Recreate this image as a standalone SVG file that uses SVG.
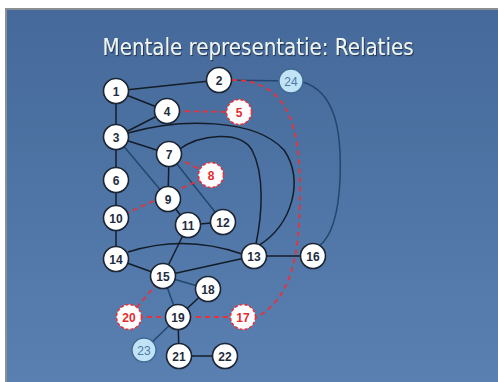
<svg xmlns="http://www.w3.org/2000/svg" width="498" height="382" viewBox="0 0 498 382">
<defs>
<linearGradient id="bg" x1="0" y1="0" x2="0" y2="1">
<stop offset="0" stop-color="#45699a"/>
<stop offset="0.5" stop-color="#4e75a5"/>
<stop offset="1" stop-color="#5a80b2"/>
</linearGradient>
<filter id="sh" x="-5%" y="-20%" width="110%" height="150%">
<feDropShadow dx="1" dy="1.2" stdDeviation="0.4" flood-color="#1a2c48" flood-opacity="0.85"/>
</filter>
<style>
.n circle{fill:#ffffff;stroke:#1b2533;stroke-width:1.6}
.n text{font-family:"Liberation Sans",Arial,sans-serif;font-weight:bold;font-size:12px;fill:#1e2c40;text-anchor:middle}
.r circle{fill:#ffffff;stroke:#e8323a;stroke-width:1.6;stroke-dasharray:3 2}
.r text{font-family:"Liberation Sans",Arial,sans-serif;font-weight:bold;font-size:12px;fill:#e42a30;text-anchor:middle}
.b circle{fill:#c2e2f6;stroke:#3d6a95;stroke-width:1.4}
.b text{font-family:"Liberation Sans",Arial,sans-serif;font-size:12px;fill:#4a7aa8;text-anchor:middle}
.k{stroke:#141c28;stroke-width:1.5;fill:none}
.u{stroke:#24466e;stroke-width:1.5;fill:none}
.d{stroke:#e8323a;stroke-width:1.8;stroke-dasharray:5 4;fill:none}
</style>
</defs>
<rect width="498" height="382" fill="#ffffff"/>
<rect x="5" y="8" width="493" height="374" fill="#8a8f96"/>
<rect x="7" y="10" width="491" height="372" fill="url(#bg)"/>
<text x="258" y="55" font-family="'DejaVu Sans',Verdana,sans-serif" font-size="23" fill="#eef6f2" text-anchor="middle" textLength="311" lengthAdjust="spacingAndGlyphs" filter="url(#sh)">Mentale representatie: Relaties</text>
<g id="connectors">
<line class="k" x1="116" y1="91" x2="219" y2="80"/>
<line class="k" x1="116" y1="91" x2="167" y2="111"/>
<line class="k" x1="116" y1="91" x2="116" y2="259"/>
<line class="k" x1="116" y1="137" x2="167" y2="111"/>
<line class="u" x1="219" y1="80" x2="291" y2="81"/>
<line class="d" x1="167" y1="111" x2="239" y2="112"/>
<path class="d" d="M232,80 C290,80 300,130 300,190 C300,260 290,300 255,318"/>
<path class="u" d="M303,82 C335,92 342,130 340,180 C338,220 330,238 319,246"/>
<path class="k" d="M128,133 C180,118 255,118 284,150 C305,180 292,225 258,246"/>
<path class="k" d="M178,150 C200,134 240,130 252,150 C265,175 262,215 256,244"/>
<line class="k" x1="116" y1="137" x2="169" y2="154"/>
<line class="u" x1="116" y1="137" x2="168" y2="199"/>
<line class="k" x1="169" y1="154" x2="168" y2="199"/>
<line class="u" x1="169" y1="154" x2="223" y2="222"/>
<line class="d" x1="169" y1="154" x2="211" y2="175"/>
<line class="d" x1="211" y1="175" x2="116" y2="218"/>
<line class="k" x1="168" y1="199" x2="188" y2="225"/>
<line class="k" x1="188" y1="225" x2="223" y2="222"/>
<path class="k" d="M128,252 Q185,234 242,254"/>
<line class="k" x1="116" y1="259" x2="163" y2="276"/>
<line class="k" x1="188" y1="225" x2="163" y2="276"/>
<line class="k" x1="163" y1="276" x2="254" y2="256"/>
<line class="k" x1="254" y1="256" x2="313" y2="256"/>
<line class="u" x1="163" y1="276" x2="208" y2="289"/>
<line class="u" x1="163" y1="276" x2="178" y2="317"/>
<line class="k" x1="208" y1="289" x2="178" y2="317"/>
<line class="d" x1="163" y1="276" x2="129" y2="317"/>
<line class="d" x1="129" y1="317" x2="178" y2="317"/>
<line class="d" x1="178" y1="317" x2="243" y2="317"/>
<line class="u" x1="178" y1="317" x2="144" y2="350"/>
<line class="k" x1="178" y1="317" x2="179" y2="356"/>
<line class="k" x1="179" y1="356" x2="225" y2="356" stroke-width="2.2"/>
</g>
<g id="n1" class="n"><circle cx="116" cy="91" r="12.5"/><text x="116" y="95.5">1</text></g>
<g id="n2" class="n"><circle cx="219" cy="80" r="12.5"/><text x="219" y="84.5">2</text></g>
<g id="n24" class="b"><circle cx="291" cy="81" r="12"/><text x="291" y="85.5">24</text></g>
<g id="n4" class="n"><circle cx="167" cy="111" r="12.5"/><text x="167" y="115.5">4</text></g>
<g id="n5" class="r"><circle cx="239" cy="112" r="12.5"/><text x="239" y="116.5">5</text></g>
<g id="n3" class="n"><circle cx="116" cy="137" r="12.5"/><text x="116" y="141.5">3</text></g>
<g id="n7" class="n"><circle cx="169" cy="154" r="12.5"/><text x="169" y="158.5">7</text></g>
<g id="n8" class="r"><circle cx="211" cy="175" r="12.5"/><text x="211" y="179.5">8</text></g>
<g id="n6" class="n"><circle cx="116" cy="180" r="12.5"/><text x="116" y="184.5">6</text></g>
<g id="n9" class="n"><circle cx="168" cy="199" r="12.5"/><text x="168" y="203.5">9</text></g>
<g id="n10" class="n"><circle cx="116" cy="218" r="12.5"/><text x="116" y="222.5">10</text></g>
<g id="n11" class="n"><circle cx="188" cy="225" r="12.5"/><text x="188" y="229.5">11</text></g>
<g id="n12" class="n"><circle cx="223" cy="222" r="12.5"/><text x="223" y="226.5">12</text></g>
<g id="n14" class="n"><circle cx="116" cy="259" r="12.5"/><text x="116" y="263.5">14</text></g>
<g id="n13" class="n"><circle cx="254" cy="256" r="12.5"/><text x="254" y="260.5">13</text></g>
<g id="n16" class="n"><circle cx="313" cy="256" r="12.5"/><text x="313" y="260.5">16</text></g>
<g id="n15" class="n"><circle cx="163" cy="276" r="12.5"/><text x="163" y="280.5">15</text></g>
<g id="n18" class="n"><circle cx="208" cy="289" r="12.5"/><text x="208" y="293.5">18</text></g>
<g id="n19" class="n"><circle cx="178" cy="317" r="12.5"/><text x="178" y="321.5">19</text></g>
<g id="n20" class="r"><circle cx="129" cy="317" r="12.5"/><text x="129" y="321.5">20</text></g>
<g id="n17" class="r"><circle cx="243" cy="317" r="12.5"/><text x="243" y="321.5">17</text></g>
<g id="n23" class="b"><circle cx="144" cy="350" r="12"/><text x="144" y="354.5">23</text></g>
<g id="n21" class="n"><circle cx="179" cy="356" r="12.5"/><text x="179" y="360.5">21</text></g>
<g id="n22" class="n"><circle cx="225" cy="356" r="12.5"/><text x="225" y="360.5">22</text></g>
</svg>
